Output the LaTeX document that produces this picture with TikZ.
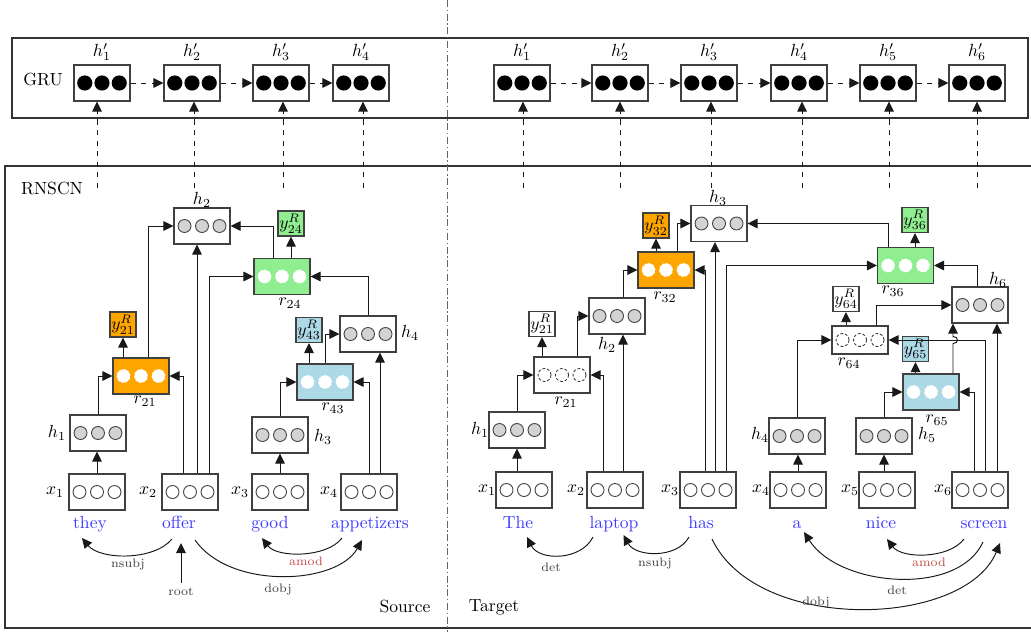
\documentclass[tikz,border=0pt]{standalone}
\usetikzlibrary{arrows.meta,calc}
\definecolor{cOrange}{HTML}{FFA500}
\definecolor{cGreen}{HTML}{90EE90}
\definecolor{cBlue}{HTML}{ADD8E6}
\definecolor{cGray}{HTML}{D3D3D3}
\definecolor{cWord}{HTML}{3C3CFF}
\definecolor{cAmod}{HTML}{C44A4A}
\tikzset{
  nbox/.style={draw=black!75, line width=0.6pt, minimum width=1.12cm, minimum height=0.72cm, inner sep=0pt, fill=white},
  gbox/.style={nbox, path picture={\foreach \cx in {-0.345,0,0.345} \fill[black] ([xshift=\cx cm]path picture bounding box.center) circle[radius=0.152cm];}},
  hbox/.style={nbox, path picture={\foreach \cx in {-0.35,0,0.35} \draw[line width=0.5pt, fill=cGray] ([xshift=\cx cm]path picture bounding box.center) circle[radius=0.13cm];}},
  xbox/.style={nbox, path picture={\foreach \cx in {-0.35,0,0.35} \draw[line width=0.5pt, fill=white] ([xshift=\cx cm]path picture bounding box.center) circle[radius=0.13cm];}},
  rbox/.style={nbox, fill=#1, path picture={\foreach \cx in {-0.35,0,0.35} \draw[white, line width=0.4pt, dash pattern=on 1.3pt off 1pt, fill=white] ([xshift=\cx cm]path picture bounding box.center) circle[radius=0.13cm];}},
  rwbox/.style={nbox, path picture={\foreach \cx in {-0.35,0,0.35} \draw[black!85, line width=0.45pt, dash pattern=on 1.6pt off 1.1pt, fill=white] ([xshift=\cx cm]path picture bounding box.center) circle[radius=0.13cm];}},
  ybox/.style={draw=black!75, line width=0.6pt, fill=#1, minimum width=0.52cm, minimum height=0.5cm, inner sep=0.5pt},
  arr/.style={-{Triangle[length=2mm,width=1.9mm]}, line width=0.55pt, black!90},
  darr/.style={arr, dashed},
  word/.style={text=cWord, anchor=base, inner sep=0pt},
  dlab/.style={font=\scriptsize, text=black!75, inner sep=0pt},
  lab/.style={inner sep=0pt},
  frame/.style={draw=black!80, line width=0.7pt},
}
\begin{document}
\begin{tikzpicture}[x=0.02cm,y=-0.02cm]
\useasboundingbox (0,0) rectangle (1031,632);
% frames
\draw[frame] (12,38) rectangle (1028,118);
\draw[frame] (5,166) rectangle (1040,628);
\draw[black!60, line width=0.5pt, dash pattern=on 4pt off 1.5pt on 0.8pt off 1.5pt] (447,0) -- (447,632);
\node[lab] (gru) at (43,79) {GRU};
\node[lab] (rnscn) at (52,188) {RNSCN};
\node[lab] (source) at (405,606) {Source};
\node[lab] (target) at (494,607) {Target};

% ---------- GRU source ----------
\node[gbox] (sg1) at (102,83) {};
\node[gbox] (sg2) at (192,83) {};
\node[gbox] (sg3) at (281,83) {};
\node[gbox] (sg4) at (361,83) {};
\node[lab] (lsg1) at (102,52) {$h'_1$};
\node[lab] (lsg2) at (192,52) {$h'_2$};
\node[lab] (lsg3) at (281,52) {$h'_3$};
\node[lab] (lsg4) at (361,52) {$h'_4$};
\draw[darr] (sg1) -- (sg2);
\draw[darr] (sg2) -- (sg3);
\draw[darr] (sg3) -- (sg4);
\coordinate (su1) at (97,188);
\coordinate (su2) at (194,188);
\coordinate (su3) at (283,188);
\coordinate (su4) at (363,188);
\draw[darr] (su1) -- (su1 |- sg1.south);
\draw[darr] (su2) -- (su2 |- sg2.south);
\draw[darr] (su3) -- (su3 |- sg3.south);
\draw[darr] (su4) -- (su4 |- sg4.south);

% ---------- GRU target ----------
\node[gbox] (tg1) at (522,83) {};
\node[gbox] (tg2) at (620,83) {};
\node[gbox] (tg3) at (709,83) {};
\node[gbox] (tg4) at (799,83) {};
\node[gbox] (tg5) at (888,83) {};
\node[gbox] (tg6) at (977,83) {};
\node[lab] (ltg1) at (522,52) {$h'_1$};
\node[lab] (ltg2) at (620,52) {$h'_2$};
\node[lab] (ltg3) at (709,52) {$h'_3$};
\node[lab] (ltg4) at (799,52) {$h'_4$};
\node[lab] (ltg5) at (888,52) {$h'_5$};
\node[lab] (ltg6) at (977,52) {$h'_6$};
\draw[darr] (tg1) -- (tg2);
\draw[darr] (tg2) -- (tg3);
\draw[darr] (tg3) -- (tg4);
\draw[darr] (tg4) -- (tg5);
\draw[darr] (tg5) -- (tg6);
\coordinate (tu1) at (523,188);
\coordinate (tu2) at (620,188);
\coordinate (tu3) at (711,188);
\coordinate (tu4) at (802,188);
\coordinate (tu5) at (889,188);
\coordinate (tu6) at (977,188);
\draw[darr] (tu1) -- (tu1 |- tg1.south);
\draw[darr] (tu2) -- (tu2 |- tg2.south);
\draw[darr] (tu3) -- (tu3 |- tg3.south);
\draw[darr] (tu4) -- (tu4 |- tg4.south);
\draw[darr] (tu5) -- (tu5 |- tg5.south);
\draw[darr] (tu6) -- (tu6 |- tg6.south);

% ---------- Source tree ----------
\node[hbox] (sh2) at (202,226) {};
\node[ybox=cGreen] (sy24) at (291,223.5) {$y^R_{24}$};
\node[rbox=cGreen] (sr24) at (282,276.5) {};
\node[ybox=cOrange] (sy21) at (123,324.5) {$y^R_{21}$};
\node[rbox=cOrange] (sr21) at (141,376) {};
\node[ybox=cBlue] (sy43) at (309,330) {$y^R_{43}$};
\node[hbox] (sh4) at (368,334) {};
\node[rbox=cBlue] (sr43) at (325,382) {};
\node[hbox] (sh1) at (98,433) {};
\node[hbox] (sh3) at (280,435) {};
\node[xbox] (sx1) at (97,492) {};
\node[xbox] (sx2) at (190,492) {};
\node[xbox] (sx3) at (280,492) {};
\node[xbox] (sx4) at (369,492) {};
\node[lab] (lsh2) at (202,200) {$h_2$};
\node[lab] (lsr24) at (290,303) {$r_{24}$};
\node[lab] (lsr21) at (145,401) {$r_{21}$};
\node[lab] (lsh4) at (410,333) {$h_4$};
\node[lab] (lsr43) at (333,408) {$r_{43}$};
\node[lab] (lsh1) at (57,433) {$h_1$};
\node[lab] (lsh3) at (323,437) {$h_3$};
\node[lab] (lsx1) at (55,492) {$x_1$};
\node[lab] (lsx2) at (148,492) {$x_2$};
\node[lab] (lsx3) at (240,492) {$x_3$};
\node[lab] (lsx4) at (329,492) {$x_4$};

\draw[arr] (sx1.north) -- (sx1.north |- sh1.south);
\draw[arr] (sh1.north) |- (sr21.west);
\draw[arr] ([xshift=-0.14cm]sx2.north) |- (sr21.east);
\draw[arr] ([xshift=0.14cm]sr21.north) |- (sh2.west);
\draw[arr] (sy21.south |- sr21.north) -- (sy21.south);
\coordinate (sa6) at ([xshift=0.14cm]sx2.north);
\draw[arr] (sa6) -- (sa6 |- sh2.south);
\draw[arr] ([xshift=0.38cm]sx2.north) |- (sr24.west);
\draw[arr] ([xshift=-0.18cm]sr24.north) |- (sh2.east);
\draw[arr] (sy24.south |- sr24.north) -- (sy24.south);
\draw[arr] (sh4.north) |- (sr24.east);
\draw[arr] (sx3.north) -- (sx3.north |- sh3.south);
\draw[arr] (sh3.north) |- (sr43.west);
\draw[arr] (sx4.north) |- (sr43.east);
\coordinate (sa14) at ([xshift=0.22cm]sx4.north);
\draw[arr] (sa14) -- (sa14 |- sh4.south);
\draw[arr] (sr43.north) |- (sh4.west);
\draw[arr] (sy43.south |- sr43.north) -- (sy43.south);

% source words
\node[word] (wthey) at (90,528) {they};
\node[word] (woffer) at (179,528) {offer};
\node[word] (wgood) at (270,528) {good};
\node[word] (wapp) at (370,528) {appetizers};
\draw[arr] ([shift={(-7,11)}]woffer.base) .. controls +(-18,22) and +(18,22) .. ([shift={(-8,10)}]wthey.base);
\coordinate (rootc) at (181,583);
\draw[arr] (rootc) -- ([shift={(2,15)}]woffer.base);
\draw[arr] ([shift={(16,12)}]woffer.base) .. controls +(35,50) and +(-25,45) .. ([shift={(-8,12)}]wapp.base);
\draw[arr] ([shift={(-28,10)}]wapp.base) .. controls +(-15,20) and +(15,20) .. ([shift={(-8,10)}]wgood.base);
\node[dlab] (dl1) at (128,564) {nsubj};
\node[dlab] (dl2) at (181,592) {root};
\node[dlab] (dl3) at (278,589) {dobj};
\node[dlab, text=cAmod] (dl4) at (306,561) {amod};

% ---------- Target tree ----------
\node[hbox] (th3) at (719,223.5) {};
\node[ybox=cOrange] (ty32) at (656,225.5) {$y^R_{32}$};
\node[rbox=cOrange] (tr32) at (666,270) {};
\node[hbox] (th2) at (617,316) {};
\node[ybox=white] (ty21) at (542,324) {$y^R_{21}$};
\node[rwbox] (tr21) at (562,375) {};
\node[hbox] (th1) at (517,430) {};
\node[xbox] (tx1) at (524,490) {};
\node[xbox] (tx2) at (615,490) {};
\node[xbox] (tx3) at (708,490) {};
\node[xbox] (tx4) at (798,490) {};
\node[xbox] (tx5) at (887,490) {};
\node[xbox] (tx6) at (980,490) {};
\node[hbox] (th4) at (797,436) {};
\node[hbox] (th5) at (884,436) {};
\node[ybox=cGreen] (ty36) at (915,220) {$y^R_{36}$};
\node[rbox=cGreen] (tr36) at (905.5,265.5) {};
\node[hbox] (th6) at (980,305) {};
\node[ybox=white] (ty64) at (846,299) {$y^R_{64}$};
\node[rwbox, minimum height=0.56cm] (tr64) at (860,340) {};
\node[ybox=cBlue] (ty65) at (915.5,349) {$y^R_{65}$};
\node[rbox=cBlue] (tr65) at (931,392) {};

\node[lab] (lth3) at (718,198) {$h_3$};
\node[lab] (ltr32) at (665,297) {$r_{32}$};
\node[lab] (lth2) at (607,345) {$h_2$};
\node[lab] (ltr21) at (566,402) {$r_{21}$};
\node[lab] (lth1) at (480,430) {$h_1$};
\node[lab] (ltx1) at (487,490) {$x_1$};
\node[lab] (ltx2) at (576,490) {$x_2$};
\node[lab] (ltx3) at (670,490) {$x_3$};
\node[lab] (ltx4) at (761,490) {$x_4$};
\node[lab] (ltx5) at (850,490) {$x_5$};
\node[lab] (ltx6) at (943,490) {$x_6$};
\node[lab] (lth4) at (760,435) {$h_4$};
\node[lab] (lth5) at (927,435) {$h_5$};
\node[lab] (ltr36) at (893,291) {$r_{36}$};
\node[lab] (lth6) at (998,280) {$h_6$};
\node[lab] (ltr64) at (849,363) {$r_{64}$};
\node[lab] (ltr65) at (937,420) {$r_{65}$};

\draw[arr] (th1.south |- tx1.north) -- (th1.south);
\draw[arr] (th1.north) |- (tr21.west);
\draw[arr] ([xshift=-0.24cm]tx2.north) |- (tr21.east);
\draw[arr] (ty21.south |- tr21.north) -- (ty21.south);
\draw[arr] ([xshift=0.30cm]tr21.north) |- (th2.west);
\coordinate (ta6) at ([xshift=0.16cm]tx2.north);
\draw[arr] (ta6) -- (ta6 |- th2.south);
\draw[arr] ([xshift=0.12cm]th2.north) |- (tr32.west);
\draw[arr] (ty32.south |- tr32.north) -- (ty32.south);
\draw[arr] ([xshift=0.22cm]tr32.north) |- (th3.west);
\draw[arr] ([xshift=-0.06cm]tx3.north) |- (tr32.east);
\coordinate (ta11) at ([xshift=0.14cm]tx3.north);
\draw[arr] (ta11) -- (ta11 |- th3.south);
\draw[arr] ([xshift=0.36cm]tx3.north) |- (tr36.west);
\draw[arr] ([xshift=-0.35cm]tr36.north) |- (th3.east);
\draw[arr] (ty36.south |- tr36.north) -- (ty36.south);
\draw[arr] ([xshift=-0.06cm]th6.north) |- (tr36.east);
\draw[arr] (th4.north) |- (tr64.west);
\draw[arr] ([xshift=0.1cm]tx6.north) |- (tr64.east);
\draw[arr] (ty64.south |- tr64.north) -- (ty64.south);
\draw[arr] ([xshift=0.32cm]tr64.north) |- (th6.west);
\draw[arr] (th5.north) |- (tr65.west);
\draw[arr] ([xshift=-0.12cm]tx6.north) |- (tr65.east);
\draw[arr] (ty65.south |- tr65.north) -- (ty65.south);
\coordinate (ta23) at ([xshift=0.44cm]tr65.north);
\coordinate (tj23) at (ta23 |- tr64.east);
\draw[arr] (ta23) -- ([yshift=-0.07cm]tj23) .. controls +(0.12cm,0) and +(0.12cm,0) .. ([yshift=0.07cm]tj23) -- (ta23 |- th6.south);
\coordinate (ta24) at ([xshift=0.34cm]tx6.north);
\draw[arr] (ta24) -- (ta24 |- th6.south);
\draw[arr] (tx4.north) -- (tx4.north |- th4.south);
\draw[arr] (th5.south |- tx5.north) -- (th5.south);

% target words
\node[word] (wThe) at (518,528) {The};
\node[word] (wlaptop) at (614,528) {laptop};
\node[word] (whas) at (701,528) {has};
\node[word] (wa) at (797,528) {a};
\node[word] (wnice) at (881,528) {nice};
\node[word] (wscreen) at (984,528) {screen};
\draw[arr] ([shift={(-21,9)}]wlaptop.base) .. controls +(-12,24) and +(12,24) .. ([shift={(9,9)}]wThe.base);
\draw[arr] ([shift={(-12,9)}]whas.base) .. controls +(-12,22) and +(12,22) .. ([shift={(9.5,7)}]wlaptop.base);
\draw[arr] ([shift={(11,11)}]whas.base) .. controls +(45,95) and +(-35,85) .. ([shift={(16,15)}]wscreen.base);
\draw[arr] ([shift={(-1,14)}]wscreen.base) .. controls +(-25,55) and +(35,55) .. ([shift={(7,4)}]wa.base);
\draw[arr] ([shift={(-20,11)}]wscreen.base) .. controls +(-15,20) and +(15,20) .. ([shift={(6,11)}]wnice.base);
\node[dlab] (tl1) at (551,567) {det};
\node[dlab] (tl2) at (655,563) {nsubj};
\node[dlab] (tl3) at (816,602) {dobj};
\node[dlab] (tl4) at (897,590) {det};
\node[dlab, text=cAmod] (tl5) at (929,562) {amod};
\end{tikzpicture}
\end{document}
